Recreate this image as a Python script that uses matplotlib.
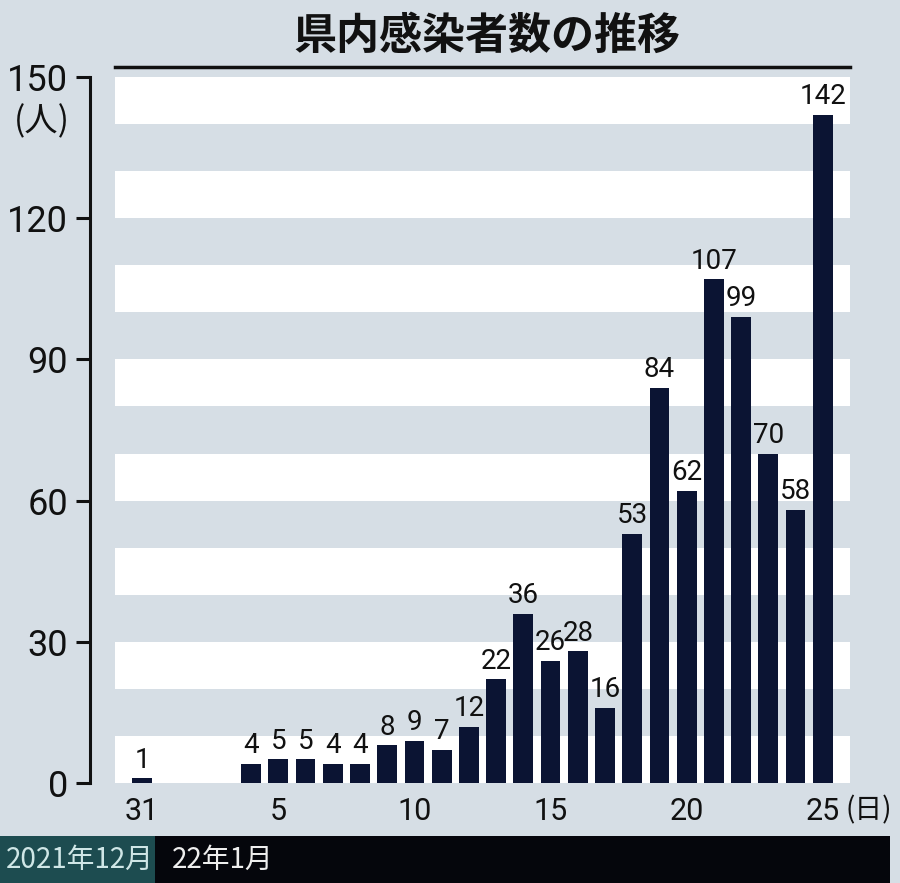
import pandas as pd
import matplotlib
matplotlib.use('Agg')
import matplotlib.pyplot as plt
from matplotlib.patches import Rectangle

plt.rcParams['font.family'] = ['Roboto', 'Noto Sans CJK JP', 'DejaVu Sans']

# daily new cases in the prefecture
dates = ['2021-12-31', '2022-01-04', '2022-01-05', '2022-01-06', '2022-01-07',
         '2022-01-08', '2022-01-09', '2022-01-10', '2022-01-11', '2022-01-12',
         '2022-01-13', '2022-01-14', '2022-01-15', '2022-01-16', '2022-01-17',
         '2022-01-18', '2022-01-19', '2022-01-20', '2022-01-21', '2022-01-22',
         '2022-01-23', '2022-01-24', '2022-01-25']
counts = [1, 4, 5, 5, 4, 4, 8, 9, 7, 12, 22, 36, 26, 28, 16, 53, 84, 62, 107, 99, 70, 58, 142]
xtick_days = ['2021-12-31', '2022-01-05', '2022-01-10', '2022-01-15', '2022-01-20', '2022-01-25']
xtick_labels = ['31', '5', '10', '15', '20', '25']
yticks = [0, 30, 60, 90, 120, 150]

bg = '#d6dee5'
bar_col = '#0b1433'
ink = '#111111'

d = pd.to_datetime(dates)
x = (d - d[0]).days
xt = (pd.to_datetime(xtick_days) - d[0]).days

fig = plt.figure(figsize=(9, 8.83), dpi=100, facecolor=bg)
ax = fig.add_axes([115/900, 100/883, 735/900, 706/883])
ax.set_facecolor(bg)

# alternating white bands every 10 people
for y0 in range(0, 150, 20):
    ax.axhspan(y0, y0 + 10, color='white', lw=0, zorder=0)

ax.bar(x, counts, width=0.73, color=bar_col, zorder=2)
for xi, c in zip(x, counts):
    ax.text(xi, c + 1.0, str(c), ha='center', va='bottom', fontsize=20,
            color=ink, zorder=3)

ax.set_xlim(-1, 26)
ax.set_ylim(0, 150)

for s in ['top', 'right', 'bottom']:
    ax.spines[s].set_visible(False)
ax.spines['left'].set_position(('outward', 18))
ax.spines['left'].set_linewidth(2.2)
ax.spines['left'].set_color(ink)

ax.set_yticks(yticks)
ax.set_yticklabels([str(v) for v in yticks], fontsize=26, color=ink)
ax.tick_params(axis='y', length=10, width=2.2, pad=6, color=ink)
ax.set_xticks(xt)
ax.set_xticklabels(xtick_labels, fontsize=22, color=ink)
ax.tick_params(axis='x', length=0, pad=10)

# top rule
ax.plot([0, 1], [1.014, 1.014], transform=ax.transAxes, color=ink,
        lw=2.5, clip_on=False)

fig.text(70/900, 1 - 122/883, '(人)', ha='right', va='center', fontsize=24,
         color=ink, family=['Noto Sans CJK JP', 'DejaVu Sans'])
fig.text(846/900, 1 - 810/883, '(日)', ha='left', va='center', fontsize=20,
         color=ink, family=['Noto Sans CJK JP', 'DejaVu Sans'])

fig.text(487/900, 1 - 36/883, '県内感染者数の推移', ha='center', va='center',
         fontsize=31, fontweight='bold', color=ink,
         family=['Noto Sans CJK JP', 'DejaVu Sans'])

# month band at the bottom
fig.patches.append(Rectangle((0, 0), 890/900, 47/883, transform=fig.transFigure,
                             facecolor='#05060c', edgecolor='none', zorder=0))
fig.patches.append(Rectangle((0, 0), 155/900, 47/883, transform=fig.transFigure,
                             facecolor='#1d4c50', edgecolor='none', zorder=1))
fig.text(6/900, 23/883, '2021年12月', ha='left', va='center', fontsize=20,
         color='#cfe6e6', family=['Noto Sans CJK JP', 'DejaVu Sans'])
fig.text(172/900, 23/883, '22年1月', ha='left', va='center', fontsize=20,
         color='#eeeeee', family=['Noto Sans CJK JP', 'DejaVu Sans'])

fig.savefig('out.png', dpi=100, facecolor=bg)
